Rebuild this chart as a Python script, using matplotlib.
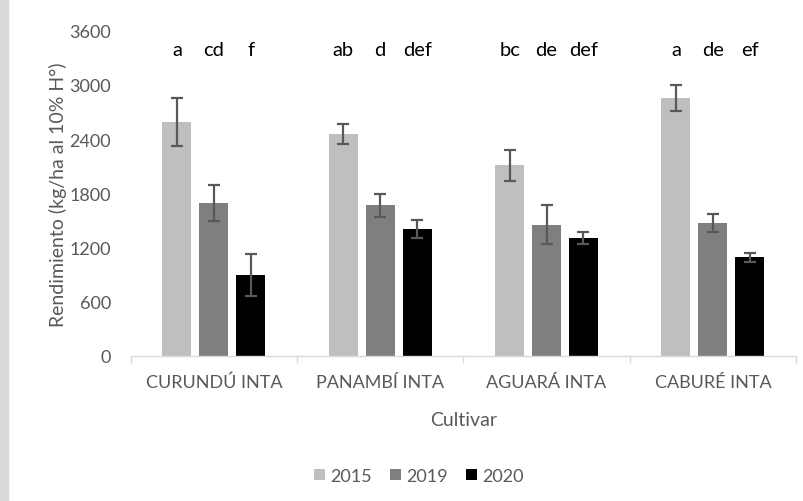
import matplotlib
matplotlib.use('Agg')
import matplotlib.pyplot as plt
from matplotlib.patches import Rectangle
import numpy as np

# Data
cultivars = ['CURUNDÚ INTA', 'PANAMBÍ INTA', 'AGUARÁ INTA', 'CABURÉ INTA']
years = ['2015', '2019', '2020']
yield_2015 = [2585, 2455, 2110, 2850]
yield_2019 = [1690, 1665, 1450, 1470]
yield_2020 = [895, 1405, 1305, 1090]
err_2015 = [265, 107, 170, 143]
err_2019 = [197, 125, 215, 103]
err_2020 = [230, 100, 65, 50]
letters_2015 = ['a', 'ab', 'bc', 'a']
letters_2019 = ['cd', 'd', 'de', 'de']
letters_2020 = ['f', 'def', 'def', 'ef']

colors = ['#bfbfbf', '#7f7f7f', '#000000']
txt_gray = '#595959'

plt.rcParams['font.family'] = ['Lato', 'DejaVu Sans']

fig = plt.figure(figsize=(8.04, 5.02), dpi=100)
ax = fig.add_axes([0.1626, 0.289, 0.8275, 0.648])

# light grey strip on the left edge
fig.patches.append(Rectangle((0, 0), 8 / 804, 1, transform=fig.transFigure,
                             color='#d9d9d9', zorder=0))

x = np.arange(len(cultivars))
width = 0.174
step = 0.222
series = [yield_2015, yield_2019, yield_2020]
errs = [err_2015, err_2019, err_2020]
letters = [letters_2015, letters_2019, letters_2020]

for i in range(3):
    pos = x + (i - 1) * step
    ax.bar(pos, series[i], width, color=colors[i], label=years[i], zorder=2)
    ax.errorbar(pos, series[i], yerr=errs[i], fmt='none', ecolor=txt_gray,
                elinewidth=1.6, capsize=4.5, capthick=1.6, zorder=3)
    for p, lt in zip(pos, letters[i]):
        ax.text(p, 3390, lt, ha='center', va='center', fontsize=14.5, color='black')

ax.set_ylim(0, 3600)
ax.set_xlim(-0.5, len(cultivars) - 0.5)
ax.set_yticks(np.arange(0, 3601, 600))
ax.set_xticks(x)
ax.set_xticklabels(cultivars)
ax.set_xticks(np.arange(-0.5, len(cultivars)), minor=True)
ax.tick_params(axis='x', which='major', length=0, pad=13, labelsize=13, labelcolor=txt_gray)
ax.tick_params(axis='x', which='minor', length=5, color='#d9d9d9', width=1)
ax.tick_params(axis='y', length=0, pad=14, labelsize=13, labelcolor=txt_gray)

for s in ['top', 'right', 'left']:
    ax.spines[s].set_visible(False)
ax.spines['bottom'].set_color('#d9d9d9')
ax.spines['bottom'].set_linewidth(1)

ax.set_ylabel('Rendimiento (kg/ha al 10% H°)', fontsize=14, color=txt_gray, labelpad=2)
ax.set_xlabel('Cultivar', fontsize=14, color=txt_gray, labelpad=15)

fig.legend(loc='center', bbox_to_anchor=(419 / 804, 1 - 477 / 502), ncol=3,
           frameon=False, fontsize=13, labelcolor=txt_gray, handlelength=0.6,
           handleheight=0.6, handletextpad=0.3, columnspacing=1.0)

fig.savefig('out.png', dpi=100)
